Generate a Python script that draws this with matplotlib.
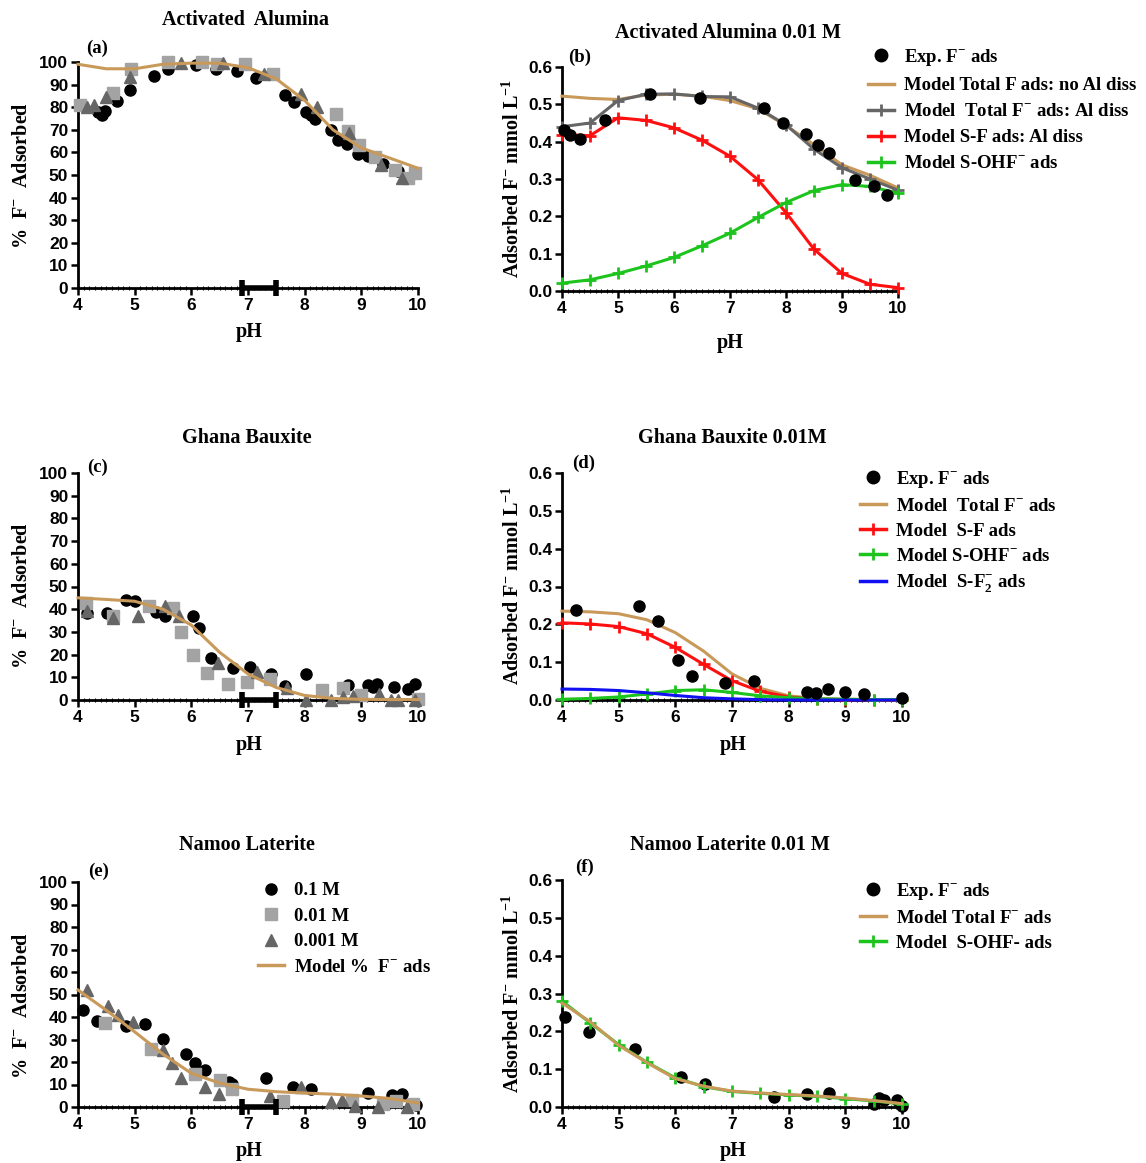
"""Fluoride adsorption vs pH on three sorbents (six-panel figure)."""

import matplotlib
matplotlib.use("Agg")
import matplotlib.pyplot as plt
from matplotlib.lines import Line2D

# ---------------- data ----------------
model_ph = [4, 4.5, 5, 5.5, 6, 6.5, 7, 7.5, 8, 8.5, 9, 9.5, 10]

# (a) Activated alumina, % adsorbed
a_01_ph = [4.35, 4.42, 4.48, 4.69, 4.92, 5.35, 5.59, 6.08, 6.43, 6.81, 7.14, 7.65, 7.81,
           8.03, 8.12, 8.19, 8.46, 8.59, 8.75, 8.94, 9.11, 9.39, 9.65]
a_01_y = [78, 76.5, 78.5, 82.9, 87.5, 94, 97, 98.5, 97, 96, 93, 85.4, 82.3,
          77.9, 76.4, 74.8, 70, 65.6, 63.9, 59.3, 58.6, 54.9, 51.9]
a_001_ph = [4.03, 4.62, 4.94, 5.59, 6.18, 6.46, 6.94, 7.44, 8.56, 8.76, 8.95, 9.24, 9.59, 9.82, 9.94]
a_001_y = [81.1, 86.3, 97, 99.9, 99.9, 99.1, 99.1, 94.8, 77, 69.6, 63.1, 57.8, 52.4, 48.7, 50.9]
a_0001_ph = [4.16, 4.29, 4.5, 4.92, 5.82, 6.56, 7.29, 7.94, 8.22, 8.79, 9.35, 9.71]
a_0001_y = [80, 81.1, 84.4, 93.4, 99.6, 99.6, 94.8, 85.8, 80, 68.6, 54.3, 48.7]
a_model = [99, 97, 97, 99, 99.5, 99.5, 97.5, 92.5, 83, 70, 62, 57.5, 53]

# (b) Activated alumina 0.01 M, mmol/L
b_exp_ph = [4.04, 4.15, 4.33, 4.76, 5.58, 6.47, 7.61, 7.94, 8.35, 8.57, 8.76, 9.23, 9.58, 9.80]
b_exp_y = [0.430, 0.419, 0.408, 0.459, 0.529, 0.518, 0.491, 0.449, 0.421, 0.390, 0.370,
           0.298, 0.280, 0.258]
b_total_noal = [0.522, 0.516, 0.513, 0.525, 0.527, 0.522, 0.510, 0.488, 0.443, 0.392,
                0.338, 0.310, 0.276]
b_total_al = [0.440, 0.450, 0.510, 0.527, 0.528, 0.521, 0.520, 0.490, 0.445, 0.380,
              0.330, 0.300, 0.270]
b_sf = [0.419, 0.416, 0.464, 0.457, 0.437, 0.404, 0.361, 0.298, 0.210, 0.112, 0.047,
        0.018, 0.009]
b_sohf = [0.021, 0.030, 0.047, 0.067, 0.090, 0.121, 0.155, 0.197, 0.237, 0.269, 0.285,
          0.280, 0.262]

# (c) Ghana bauxite, % adsorbed
c_01_ph = [4.16, 4.51, 4.85, 5.0, 5.38, 5.53, 6.03, 6.13, 6.34, 6.74, 7.04, 7.41, 7.65,
           8.03, 8.76, 9.12, 9.2, 9.28, 9.58, 9.82, 9.94]
c_01_y = [38.2, 38.5, 44.1, 43.4, 38.7, 36.8, 37.1, 31.6, 18.7, 14, 14.7, 11.3, 6.3,
          11.5, 6.6, 6.6, 5.9, 6.9, 5.9, 4.7, 7.1]
c_001_ph = [4.14, 4.61, 5.26, 5.68, 5.82, 6.03, 6.28, 6.64, 6.98, 7.38, 8.31, 8.68, 9.0, 10]
c_001_y = [42.9, 36.8, 41.2, 40.4, 30.1, 19.9, 12.1, 6.9, 8.1, 9.1, 4.4, 5.1, 2.2, 0.3]
c_0001_ph = [4.16, 4.62, 5.06, 5.54, 5.79, 6.47, 7.15, 7.68, 8.02, 8.47, 8.68, 8.85,
             9.32, 9.53, 9.65, 9.94]
c_0001_y = [39.3, 36, 36.8, 41.6, 36.8, 16.2, 12.5, 5.4, 0, 0, 1.5, 1.8, 2.6, 0, 0, 0]
c_model = [45, 44.3, 43.5, 40, 33, 21, 11.5, 5.5, 2, 0.7, 0.3, 0.2, 0.2]

# (d) Ghana bauxite 0.01 M, mmol/L
d_exp_ph = [4.24, 5.35, 5.69, 6.05, 6.29, 6.87, 7.39, 8.32, 8.48, 8.69, 8.99, 9.33, 10]
d_exp_y = [0.237, 0.248, 0.210, 0.106, 0.064, 0.046, 0.049, 0.022, 0.018, 0.028, 0.020,
           0.016, 0.005]
d_total = [0.235, 0.233, 0.228, 0.212, 0.178, 0.129, 0.069, 0.031, 0.011, 0.004, 0.002,
           0.001, 0.0]
d_sf = [0.204, 0.201, 0.194, 0.175, 0.139, 0.094, 0.051, 0.023, 0.008, 0.002, 0.001, 0.0, 0.0]
d_sohf = [0.002, 0.004, 0.008, 0.016, 0.025, 0.027, 0.020, 0.011, 0.006, 0.003, 0.002,
          0.001, 0.001]
d_sf2 = [0.029, 0.028, 0.025, 0.019, 0.012, 0.006, 0.003, 0.001, 0.0, 0.0, 0.0, 0.0, 0.0]

# (e) Namoo laterite, % adsorbed
e_01_ph = [4.09, 4.34, 4.84, 5.18, 5.5, 5.91, 6.06, 6.25, 6.66, 6.72, 7.31, 7.79, 8.11,
           9.12, 9.54, 9.72, 9.97]
e_01_y = [42.9, 38.2, 35.9, 37.1, 30.4, 23.5, 19.4, 16.5, 11.0, 10.2, 12.8, 8.8, 8.1,
          6.2, 5.4, 5.9, 1.0]
e_001_ph = [4.47, 5.28, 6.06, 6.5, 6.71, 7.61, 8.84, 9.38, 9.62, 9.91]
e_001_y = [37.5, 25.6, 14.7, 12.1, 7.9, 2.8, 3.2, 1.5, 2.5, 1.5]
e_0001_ph = [4.16, 4.53, 4.71, 4.97, 5.5, 5.66, 5.82, 6.24, 6.49, 7.38, 7.94, 8.47,
             8.66, 8.88, 9.29, 9.81]
e_0001_y = [52, 44.9, 41, 37.8, 25.3, 19.5, 12.8, 8.7, 5.9, 5.1, 8.7, 2.1, 3.2, 0.3, 0, 0]
e_model = [52, 43, 33.4, 23.5, 15, 10.6, 7.9, 6.8, 6.2, 5.7, 4.9, 3.8, 1.8]

# (f) Namoo laterite 0.01 M, mmol/L
f_exp_ph = [4.05, 4.47, 5.29, 6.1, 6.53, 7.74, 8.32, 8.72, 9.5, 9.6, 9.69, 9.91, 10]
f_exp_y = [0.238, 0.197, 0.153, 0.079, 0.062, 0.026, 0.035, 0.038, 0.007, 0.025, 0.018,
           0.018, 0.003]
f_total = [0.275, 0.225, 0.163, 0.117, 0.075, 0.055, 0.042, 0.037, 0.033, 0.029, 0.024,
           0.017, 0.009]
f_sohf = [0.280, 0.222, 0.165, 0.118, 0.077, 0.054, 0.041, 0.036, 0.032, 0.028, 0.022,
          0.016, 0.008]

# pH_pzc range bar drawn on the x axis of the % panels
pzc_lo, pzc_hi = 6.9, 7.5

# ---------------- style ----------------
W, H = 1146, 1163
SERIF = "Liberation Serif"
SANS = "Liberation Sans"
TAN = "#C9995A"
RED = "#FF1010"
GREEN = "#1DC41D"
BLUE = "#1010F0"
DGRAY = "#666666"
LGRAY = "#A3A3A3"
TITLE_FS = 14.5
LABEL_FS = 14.5
LEG_FS = 13.5

plt.rcParams["font.family"] = [SERIF, "DejaVu Serif"]
plt.rcParams["font.weight"] = "bold"

fig = plt.figure(figsize=(W / 100, H / 100), dpi=100)


def px_axes(x0, x1, y_top, y_bot):
    return fig.add_axes([x0 / W, 1 - y_bot / H, (x1 - x0) / W, (y_bot - y_top) / H])


def ftext(x, y, s, **kw):
    kw.setdefault("fontsize", TITLE_FS)
    kw.setdefault("fontweight", "bold")
    kw.setdefault("ha", "center")
    kw.setdefault("va", "center")
    fig.text(x / W, 1 - y / H, s, **kw)


def style_axes(ax, percent):
    for side in ("top", "right"):
        ax.spines[side].set_visible(False)
    for side in ("left", "bottom"):
        ax.spines[side].set_linewidth(2)
    ax.set_xlim(4, 10)
    ax.set_xticks(range(4, 11))
    ax.set_xticks([4 + 0.1 * i for i in range(61)], minor=True)
    if percent:
        ax.set_ylim(0, 100)
        ax.set_yticks(range(0, 101, 10))
    else:
        ax.set_ylim(0, 0.6)
        ax.set_yticks([0.1 * i for i in range(7)])
        ax.set_yticklabels([f"{0.1 * i:.1f}" for i in range(7)])
    ax.tick_params(which="major", direction="out", length=5, width=1.8, pad=2)
    ax.tick_params(which="minor", axis="x", direction="inout", length=2.5, width=0.8)
    for lab in ax.get_xticklabels() + ax.get_yticklabels():
        lab.set_fontfamily(SANS)
        lab.set_fontweight("bold")
        lab.set_fontsize(12.5)
    ax.patch.set_alpha(0)


def percent_panel(ax, s01, s001, s0001, model):
    ax.plot(*s01, "o", color="black", ms=8, clip_on=False, zorder=3)
    ax.plot(*s001, "s", color=LGRAY, ms=8, clip_on=False, zorder=3)
    ax.plot(*s0001, "^", color=DGRAY, ms=8.5, clip_on=False, zorder=3)
    ax.plot(model_ph, model, "-", color=TAN, lw=2.2, zorder=4, clip_on=False)
    ax.errorbar((pzc_lo + pzc_hi) / 2, 0, xerr=(pzc_hi - pzc_lo) / 2, fmt="none",
                ecolor="black", elinewidth=4, capsize=6, capthick=4,
                clip_on=False, zorder=5)
    style_axes(ax, True)


def line_mark(ax, y, color, marker=True):
    if marker:
        ax.plot(model_ph, y, "-", color=color, lw=2.2, marker="+", ms=9, mew=2,
                clip_on=False, zorder=3)
    else:
        ax.plot(model_ph, y, "-", color=color, lw=2.2, clip_on=False, zorder=3)


def handle(color, kind):
    if kind == "dot":
        return Line2D([], [], ls="none", marker="o", color="black", ms=9)
    if kind == "plus":
        return Line2D([], [], color=color, lw=2.5, marker="+", ms=9, mew=2)
    return Line2D([], [], color=color, lw=2.5)


def legend(ax, handles, labels, x, y, spacing=0.42):
    ax.legend(handles, labels, loc="upper left", bbox_to_anchor=(x / W, 1 - y / H),
              bbox_transform=fig.transFigure, frameon=False, borderpad=0,
              borderaxespad=0, handlelength=1.4, handletextpad=0.5,
              labelspacing=spacing, prop={"family": SERIF, "weight": "bold", "size": LEG_FS})


Fm = r"F$^{\mathregular{-}}$"
YPCT = r"%  F$^{\mathregular{-}}$  Adsorbed"
YMM = r"Adsorbed F$^{\mathregular{-}}$ mmol L$^{\mathregular{-1}}$"

# ---------------- (a) ----------------
ax = px_axes(78, 418, 62, 288)
percent_panel(ax, (a_01_ph, a_01_y), (a_001_ph, a_001_y), (a_0001_ph, a_0001_y), a_model)
ftext(245, 20, "Activated  Alumina")
ftext(97, 48, "(a)", fontsize=13.5)
ftext(22, 175, YPCT, rotation=90, fontsize=LABEL_FS)
ftext(249, 332, "pH", fontsize=LABEL_FS)

# ---------------- (b) ----------------
ax = px_axes(562, 898, 67, 291)
ax.plot(b_exp_ph, b_exp_y, "o", color="black", ms=8, clip_on=False, zorder=4)
line_mark(ax, b_total_noal, TAN, marker=False)
line_mark(ax, b_total_al, DGRAY)
line_mark(ax, b_sf, RED)
line_mark(ax, b_sohf, GREEN)
style_axes(ax, False)
legend(ax,
       [handle(None, "dot"), handle(TAN, "line"), handle(DGRAY, "plus"),
        handle(RED, "plus"), handle(GREEN, "plus")],
       [f"Exp. {Fm} ads", "Model Total F ads: no Al diss",
        f"Model  Total {Fm} ads: Al diss", "Model S-F ads: Al diss",
        f"Model S-OH{Fm} ads"],
       868, 47, spacing=0.48)
ftext(728, 33, "Activated Alumina 0.01 M")
ftext(580, 57, "(b)", fontsize=13.5)
ftext(513, 178, YMM, rotation=90, fontsize=LABEL_FS)
ftext(730, 343, "pH", fontsize=LABEL_FS)

# ---------------- (c) ----------------
ax = px_axes(78, 418, 473, 700)
percent_panel(ax, (c_01_ph, c_01_y), (c_001_ph, c_001_y), (c_0001_ph, c_0001_y), c_model)
ftext(247, 438, "Ghana Bauxite")
ftext(97, 467, "(c)", fontsize=13.5)
ftext(22, 595, YPCT, rotation=90, fontsize=LABEL_FS)
ftext(249, 745, "pH", fontsize=LABEL_FS)

# ---------------- (d) ----------------
ax = px_axes(562, 902, 473, 700)
ax.plot(d_exp_ph, d_exp_y, "o", color="black", ms=8, clip_on=False, zorder=4)
line_mark(ax, d_total, TAN, marker=False)
line_mark(ax, d_sf, RED)
line_mark(ax, d_sohf, GREEN)
line_mark(ax, d_sf2, BLUE, marker=False)
style_axes(ax, False)
legend(ax,
       [handle(None, "dot"), handle(TAN, "line"), handle(RED, "plus"),
        handle(GREEN, "plus"), handle(BLUE, "line")],
       [f"Exp. {Fm} ads", f"Model  Total {Fm} ads", "Model  S-F ads",
        f"Model S-OH{Fm} ads", r"Model  S-F$_{\mathregular{2}}^{\mathregular{-}}$ ads"],
       860, 469)
ftext(732, 438, "Ghana Bauxite 0.01M")
ftext(584, 463, "(d)", fontsize=13.5)
ftext(513, 585, YMM, rotation=90, fontsize=LABEL_FS)
ftext(733, 745, "pH", fontsize=LABEL_FS)

# ---------------- (e) ----------------
ax = px_axes(78, 418, 882, 1107)
percent_panel(ax, (e_01_ph, e_01_y), (e_001_ph, e_001_y), (e_0001_ph, e_0001_y), e_model)
legend(ax,
       [Line2D([], [], ls="none", marker="o", color="black", ms=8),
        Line2D([], [], ls="none", marker="s", color=LGRAY, ms=8),
        Line2D([], [], ls="none", marker="^", color=DGRAY, ms=8.5),
        handle(TAN, "line")],
       ["0.1 M", "0.01 M", "0.001 M", f"Model %  {Fm} ads"],
       258, 882, spacing=0.45)
ftext(247, 845, "Namoo Laterite")
ftext(99, 871, "(e)", fontsize=13.5)
ftext(22, 1005, YPCT, rotation=90, fontsize=LABEL_FS)
ftext(249, 1151, "pH", fontsize=LABEL_FS)

# ---------------- (f) ----------------
ax = px_axes(562, 902, 880, 1107)
ax.plot(f_exp_ph, f_exp_y, "o", color="black", ms=8, clip_on=False, zorder=2)
line_mark(ax, f_sohf, GREEN)
line_mark(ax, f_total, TAN, marker=False)
style_axes(ax, False)
legend(ax,
       [handle(None, "dot"), handle(TAN, "line"), handle(GREEN, "plus")],
       [f"Exp. {Fm} ads", f"Model Total {Fm} ads", "Model  S-OHF- ads"],
       860, 881)
ftext(730, 845, "Namoo Laterite 0.01 M")
ftext(584, 867, "(f)", fontsize=13.5)
ftext(513, 993, YMM, rotation=90, fontsize=LABEL_FS)
ftext(733, 1151, "pH", fontsize=LABEL_FS)

fig.savefig("out.png", dpi=100)
